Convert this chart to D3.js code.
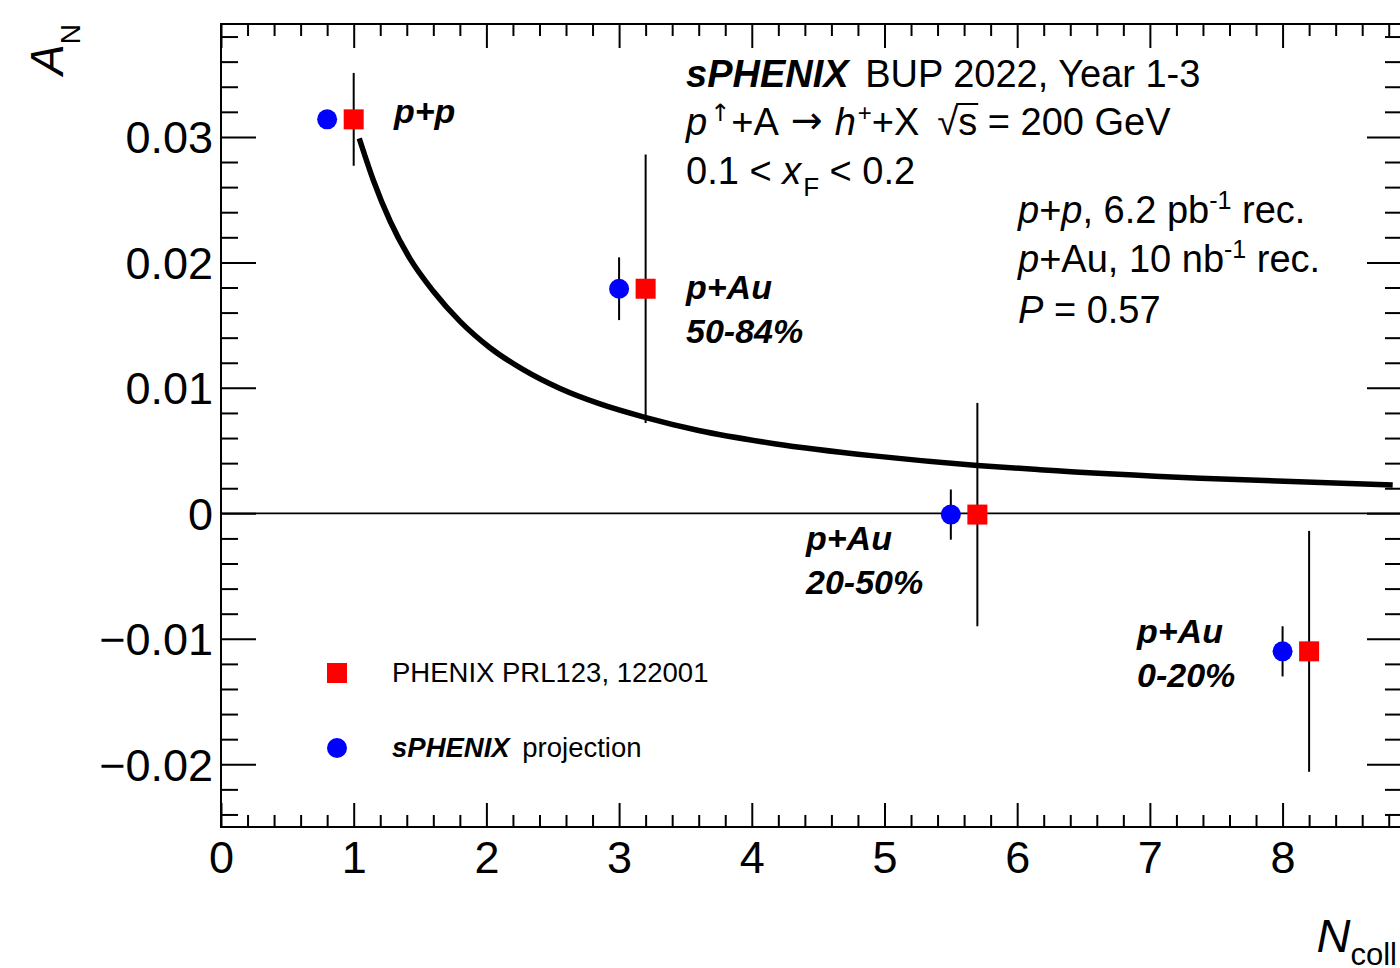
<!DOCTYPE html>
<html>
<head>
<meta charset="utf-8">
<script src="https://cdn.jsdelivr.net/npm/d3@7"></script>
<style>
  html, body { margin: 0; padding: 0; background: #fff; }
  svg text { font-family: "Liberation Sans", Arial, Helvetica, sans-serif; white-space: pre; }
</style>
</head>
<body>
<svg id="chart" width="1400" height="968"></svg>
<script>
// ---------------- data ----------------
const xTickValues = [0, 1, 2, 3, 4, 5, 6, 7, 8];
const xTickLabels = ["0", "1", "2", "3", "4", "5", "6", "7", "8"];
const yTickValues = [-0.02, -0.01, 0, 0.01, 0.02, 0.03];
const yTickLabels = ["\u22120.02", "\u22120.01", "0", "0.01", "0.02", "0.03"];

const systems = ["p+p", "p+Au 50-84%", "p+Au 20-50%", "p+Au 0-20%"];

// PHENIX PRL123, 122001 (red squares)
const phenixNcoll = [1.0, 3.2, 5.7, 8.2];
const phenixAN    = [0.0314, 0.0179, -0.0001, -0.0110];
const phenixErr   = [0.0037, 0.0107, 0.0089, 0.0096];

// sPHENIX projection (blue circles)
const sphenixNcoll = [0.8, 3.0, 5.5, 8.0];
const sphenixAN    = [0.0314, 0.0179, -0.0001, -0.0110];
const sphenixErr   = [0.0005, 0.0025, 0.0020, 0.0020];

// curve
const curveNcoll = [1.042, 1.148, 1.274, 1.424, 1.600, 1.801, 2.027, 2.278, 2.555, 2.856, 3.195, 3.6, 4.17, 4.92, 5.7, 6.17, 7.38, 8.83];
const curveAN    = [0.02988, 0.02655, 0.0233, 0.0203, 0.0177, 0.0153, 0.0132, 0.01145, 0.00995, 0.00872, 0.00765, 0.0066, 0.00555, 0.00458, 0.00382, 0.00348, 0.00280, 0.00225];

// ---------------- drawing ----------------
const svg = d3.select("#chart");
const L = 221, R = 1402, T = 24, B = 827;
const x = d3.scaleLinear().domain([0, 8.9]).range([L, R]);
const y = d3.scaleLinear().domain([-0.025, 0.039]).range([B, T]);

const xMinor = d3.range(0, 45).map(i => +(i * 0.2).toFixed(2)).filter(v => v <= 8.9 && Math.abs(v - Math.round(v)) > 1e-6);
const yMinor = d3.range(-12, 20).map(i => +(i * 0.002).toFixed(4)).filter(v => Math.abs(v * 100 - Math.round(v * 100)) > 1e-6);

function styleAxis(g) {
  g.select(".domain").remove();
  g.selectAll(".tick line").attr("stroke", "#000").attr("stroke-width", 2);
}

// bottom
svg.append("g").attr("transform", `translate(0,${B})`)
  .call(d3.axisBottom(x).tickValues(xTickValues).tickSize(-24).tickFormat((d, i) => xTickLabels[i]))
  .call(styleAxis)
  .call(g => g.selectAll("text").attr("y", 46).attr("dy", null)
      .attr("font-size", 45).attr("fill", "#000")
      .style("font-family", '"Liberation Sans", Arial, sans-serif'));
svg.append("g").attr("transform", `translate(0,${B})`)
  .call(d3.axisBottom(x).tickValues(xMinor).tickSize(-12).tickFormat(""))
  .call(styleAxis);
// top
svg.append("g").attr("transform", `translate(0,${T})`)
  .call(d3.axisTop(x).tickValues(xTickValues).tickSize(-24).tickFormat(""))
  .call(styleAxis);
svg.append("g").attr("transform", `translate(0,${T})`)
  .call(d3.axisTop(x).tickValues(xMinor).tickSize(-12).tickFormat(""))
  .call(styleAxis);
// left
svg.append("g").attr("transform", `translate(${L},0)`)
  .call(d3.axisLeft(y).tickValues(yTickValues).tickSize(-35).tickFormat((d, i) => yTickLabels[i]))
  .call(styleAxis)
  .call(g => g.selectAll("text").attr("x", -8).attr("dy", null).attr("y", 16)
      .attr("font-size", 45).attr("fill", "#000")
      .style("font-family", '"Liberation Sans", Arial, sans-serif'));
svg.append("g").attr("transform", `translate(${L},0)`)
  .call(d3.axisLeft(y).tickValues(yMinor).tickSize(-17).tickFormat(""))
  .call(styleAxis);
// right
svg.append("g").attr("transform", `translate(${R},0)`)
  .call(d3.axisRight(y).tickValues(yTickValues).tickSize(-35).tickFormat(""))
  .call(styleAxis);
svg.append("g").attr("transform", `translate(${R},0)`)
  .call(d3.axisRight(y).tickValues(yMinor).tickSize(-17).tickFormat(""))
  .call(styleAxis);

// frame
svg.append("rect").attr("x", L).attr("y", T).attr("width", R - L).attr("height", B - T)
  .attr("fill", "none").attr("stroke", "#000").attr("stroke-width", 2);

// zero line
svg.append("line").attr("x1", x(0)).attr("x2", x(8.9)).attr("y1", y(0)).attr("y2", y(0))
  .attr("stroke", "#000").attr("stroke-width", 1.6);

// curve
const curveData = curveNcoll.map((v, i) => [v, curveAN[i]]);
svg.append("path").datum(curveData)
  .attr("d", d3.line().x(d => x(d[0])).y(d => y(d[1])).curve(d3.curveMonotoneX))
  .attr("fill", "none").attr("stroke", "#000").attr("stroke-width", 5.5);

// error bars
function errBars(xs, ys, es) {
  svg.append("g").selectAll("line").data(xs).join("line")
    .attr("x1", d => x(d)).attr("x2", d => x(d))
    .attr("y1", (d, i) => y(ys[i] + es[i])).attr("y2", (d, i) => y(ys[i] - es[i]))
    .attr("stroke", "#000").attr("stroke-width", 2);
}
errBars(phenixNcoll, phenixAN, phenixErr);
errBars(sphenixNcoll, sphenixAN, sphenixErr);

// markers
svg.append("g").selectAll("rect").data(phenixNcoll).join("rect")
  .attr("x", d => x(d) - 10).attr("y", (d, i) => y(phenixAN[i]) - 10)
  .attr("width", 20).attr("height", 20).attr("fill", "#ff0000");
svg.append("g").selectAll("circle").data(sphenixNcoll).join("circle")
  .attr("cx", d => x(d)).attr("cy", (d, i) => y(sphenixAN[i]))
  .attr("r", 10).attr("fill", "#0000ff");

// rich text helper
function rich(x0, y0, parts, baseSize) {
  let cx = x0;
  parts.forEach(p => {
    cx += (p.dx || 0);
    const t = svg.append("text")
      .attr("x", cx).attr("y", y0 + (p.dy || 0))
      .attr("font-size", p.size || baseSize)
      .attr("font-style", p.italic ? "italic" : "normal")
      .attr("font-weight", p.bold ? "bold" : "normal")
      .attr("fill", "#000")
      .text(p.t);
    if (p.family) t.style("font-family", p.family);
    const w = t.node().getComputedTextLength();
    if (p.overline) {
      svg.append("line").attr("x1", cx - 2).attr("x2", cx + w + 1)
        .attr("y1", y0 - p.overline).attr("y2", y0 - p.overline)
        .attr("stroke", "#000").attr("stroke-width", 2);
    }
    cx += w + (p.after || 0);
  });
}

// header block
const HS = 38;
rich(686, 87, [
  { t: "sPHENIX", bold: true, italic: true },
  { t: " BUP 2022, Year 1-3", dx: 6 }
], HS);
rich(686, 135, [
  { t: "p", italic: true },
  { t: "\u2191", size: 24, dy: -14, dx: 3, family: '"DejaVu Sans", sans-serif' },
  { t: "+A", dx: 1 },
  { t: "\u2192", dx: 12, size: 38, dy: -2, family: '"DejaVu Sans", sans-serif' },
  { t: "h", italic: true, dx: 12 },
  { t: "+", size: 24, dy: -14, dx: 2 },
  { t: "+X" },
  { t: "\u221A", dx: 18 },
  { t: "s", overline: 31 },
  { t: " = 200 GeV" }
], HS);
rich(686, 184, [
  { t: "0.1 < " },
  { t: "x", italic: true },
  { t: "F", size: 26, dy: 12, dx: 2 },
  { t: " < 0.2" }
], HS);
rich(1018, 223, [
  { t: "p", italic: true },
  { t: "+" },
  { t: "p", italic: true },
  { t: ", 6.2 pb" },
  { t: "-1", size: 25, dy: -14 },
  { t: " rec." }
], HS);
rich(1018, 272, [
  { t: "p", italic: true },
  { t: "+Au, 10 nb" },
  { t: "-1", size: 25, dy: -14 },
  { t: " rec." }
], HS);
rich(1018, 323, [
  { t: "P", italic: true },
  { t: " = 0.57" }
], HS);

// point labels
const lblFont = 34;
function boldLbl(x0, y0, s) {
  svg.append("text").attr("x", x0).attr("y", y0).attr("font-size", lblFont)
    .attr("font-style", "italic").attr("font-weight", "bold").attr("fill", "#000").text(s);
}
boldLbl(394, 123, "p+p");
boldLbl(686, 299, "p+Au");
boldLbl(686, 343, "50-84%");
boldLbl(806, 550, "p+Au");
boldLbl(806, 594, "20-50%");
boldLbl(1137, 643, "p+Au");
boldLbl(1137, 687, "0-20%");

// legend
svg.append("rect").attr("x", 327).attr("y", 663).attr("width", 20).attr("height", 20).attr("fill", "#ff0000");
svg.append("circle").attr("cx", 337).attr("cy", 748).attr("r", 10).attr("fill", "#0000ff");
rich(392, 682, [{ t: "PHENIX PRL123, 122001" }], 27.5);
rich(392, 757, [
  { t: "sPHENIX", bold: true, italic: true },
  { t: " projection", dx: 5 }
], 27.5);

// axis titles
const yt = svg.append("text").attr("transform", "translate(63,75) rotate(-90)")
  .attr("font-size", 46).attr("fill", "#000");
yt.append("tspan").attr("font-style", "italic").text("A");
yt.append("tspan").attr("font-size", 28).attr("dy", 17).text("N");

const xt = svg.append("text").attr("x", 1397).attr("y", 952).attr("text-anchor", "end")
  .attr("font-size", 47).attr("fill", "#000");
xt.append("tspan").attr("font-style", "italic").text("N");
xt.append("tspan").attr("font-size", 31).attr("dy", 13).text("coll");
</script>
</body>
</html>
